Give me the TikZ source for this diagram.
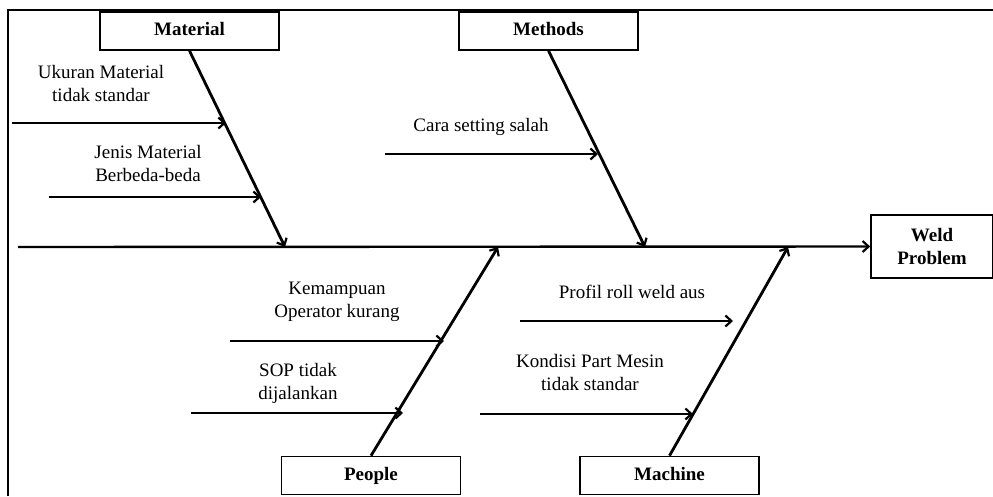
\documentclass[tikz,border=0pt]{standalone}
\usepackage{fontspec}
\setmainfont{Liberation Serif}
\usetikzlibrary{arrows.meta}
\begin{document}
\begin{tikzpicture}[x=1pt,y=-1pt,
  cat/.style={draw, line width=1.6pt, minimum width=179pt, minimum height=38pt,
    text height=13pt, text depth=4pt,
    font=\fontsize{19}{23}\selectfont\bfseries, inner sep=0pt},
  effect/.style={draw, line width=1.6pt, minimum width=122pt, minimum height=63pt,
    align=center, font=\fontsize{19}{23}\selectfont\bfseries, inner sep=0pt},
  note/.style={align=center, font=\fontsize{19}{23}\selectfont, inner sep=0pt},
  bone/.style={line width=2.8pt, -{Straight Barb[length=6pt,width=11pt,line width=2.2pt]}},
  spine/.style={line width=2.4pt, -{Straight Barb[length=6pt,width=11pt,line width=2.2pt]}},
  frame/.style={line width=1.4pt},
]
\useasboundingbox (0,0) rectangle (993,496);

% outer frame
\draw[frame] (8,496) -- (8,10) -- (993,10);

% category boxes and effect
\node[cat] (mat) at (189.5,31) {Material};
\node[cat] (met) at (548.5,31) {Methods};
\node[cat] (peo) at (371,475.5) {People};
\node[cat] (mac) at (669.5,475.5) {Machine};
\node[effect] (weld) at (932,246.5) {Weld\\Problem};

% spine
\coordinate (tail) at (18,247);
\draw[spine] (tail) -- (weld.west);

% main bones
\coordinate (matJ) at (285,247);
\coordinate (metJ) at (645,247);
\coordinate (peoJ) at (498,247);
\coordinate (macJ) at (788,247);
\draw[bone] (mat.south) -- (matJ);
\draw[bone] (met.south) -- (metJ);
\draw[bone] (peo.north) -- (peoJ);
\draw[bone] (mac.north) -- (macJ);

% Material causes
\node[note] (m1) at (101,83) {Ukuran Material\\tidak standar};
\coordinate (m1s) at (12,123);
\coordinate (m1e) at (226,123);
\draw[bone] (m1s) -- (m1e);
\node[note] (m2) at (148,163) {Jenis Material\\Berbeda-beda};
\coordinate (m2s) at (49,197);
\coordinate (m2e) at (261,197);
\draw[bone] (m2s) -- (m2e);

% Methods cause
\node[note] (t1) at (481,127) {Cara setting salah};
\coordinate (t1s) at (385,154);
\coordinate (t1e) at (598,154);
\draw[bone] (t1s) -- (t1e);

% People causes
\node[note] (p1) at (337,302) {Kemampuan\\Operator kurang};
\coordinate (p1s) at (230,341);
\coordinate (p1e) at (444,341);
\draw[bone] (p1s) -- (p1e);
\node[note] (p2) at (298,383) {SOP tidak\\dijalankan};
\coordinate (p2s) at (191,413);
\coordinate (p2e) at (403,413);
\draw[bone] (p2s) -- (p2e);

% Machine causes
\node[note] (c1) at (632,292) {Profil roll weld aus};
\coordinate (c1s) at (520,321);
\coordinate (c1e) at (733,321);
\draw[bone] (c1s) -- (c1e);
\node[note] (c2) at (590,372) {Kondisi Part Mesin\\tidak standar};
\coordinate (c2s) at (480,414);
\coordinate (c2e) at (693,414);
\draw[bone] (c2s) -- (c2e);
\end{tikzpicture}
\end{document}
